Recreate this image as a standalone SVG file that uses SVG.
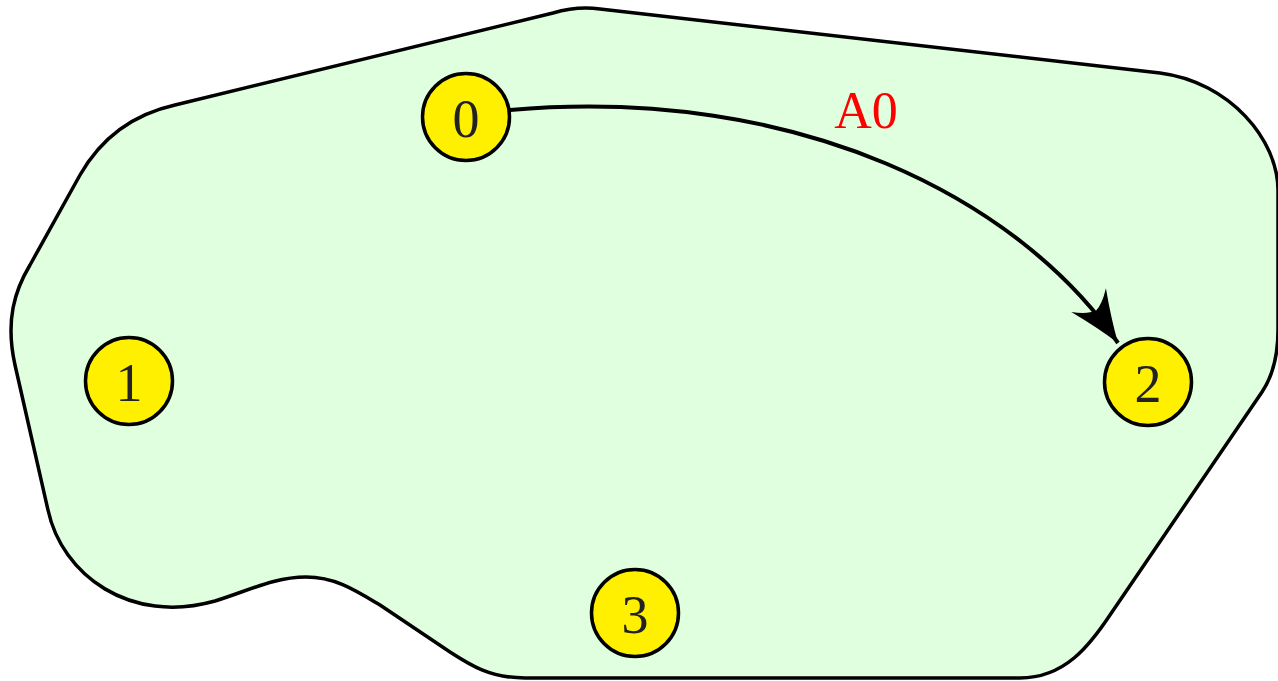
<svg xmlns="http://www.w3.org/2000/svg" width="1278" height="681" viewBox="0 0 1278 681">
  <style>
    .blob { fill: #dfffdf; stroke: #000; stroke-width: 3.5; stroke-linejoin: round; }
    .node circle { fill: #fff000; stroke: #000; stroke-width: 3.5; }
    .node text { font-family: "Liberation Serif", "DejaVu Serif", serif; font-size: 54px; fill: #222; text-anchor: middle; }
    .edge { fill: none; stroke: #000; stroke-width: 4; }
    .label { font-family: "Liberation Serif", "DejaVu Serif", serif; font-size: 52px; fill: #ff0000; text-anchor: middle; }
  </style>
  <defs>
    <marker id="arrow" markerUnits="userSpaceOnUse" viewBox="-56 -24 58 48" markerWidth="58" markerHeight="48" refX="0" refY="0" orient="auto" overflow="visible">
      <path d="M0,0 Q-24,-8 -52,-21 Q-41,-9 -39,0 Q-41,9 -52,21 Q-24,8 0,0 Z" fill="#000"/>
    </marker>
  </defs>
  <g id="region">
    <path class="blob" d="M175,105 L553,13 C570,8 585,7 600,9 L1160,73 C1230,82 1278,140 1278,190 L1278,330 C1278,360 1270,380 1262,392 L1110,615 C1090,645 1065,678 1020,678 L525,678 C490,678 470,665 450,652 L380,605 C355,590 335,577 306,577 C275,577 250,590 215,601 C130,625 62,575 48,510 L15,365 C5,320 15,290 30,265 L80,175 C100,140 130,115 175,105 Z"/>
  </g>
  <g id="connectors">
    <path class="edge" d="M510,110 C800,85 1020,200 1118,343" marker-end="url(#arrow)"/>
    <text class="label" x="866" y="128">A0</text>
  </g>
  <g id="node0" class="node">
    <circle cx="466" cy="117" r="43.5"/>
    <text x="466" y="137">0</text>
  </g>
  <g id="node1" class="node">
    <circle cx="129" cy="381" r="43.5"/>
    <text x="129" y="401">1</text>
  </g>
  <g id="node2" class="node">
    <circle cx="1148" cy="382" r="43.5"/>
    <text x="1148" y="402">2</text>
  </g>
  <g id="node3" class="node">
    <circle cx="635" cy="613" r="43.5"/>
    <text x="635" y="633">3</text>
  </g>
</svg>
